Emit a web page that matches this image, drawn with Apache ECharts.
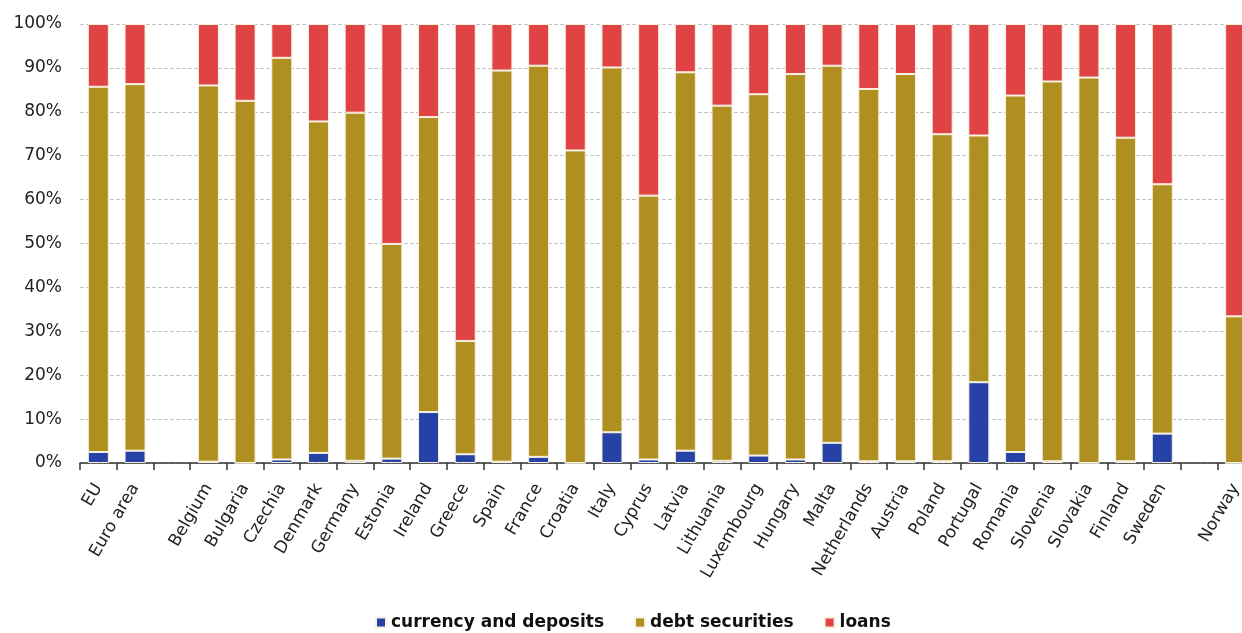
<!DOCTYPE html>
<html>
<head>
<meta charset="utf-8">
<title>Financial liabilities by instrument</title>
<script src="https://cdn.jsdelivr.net/npm/echarts@6/dist/echarts.min.js"></script>
<style>
  html, body { margin: 0; padding: 0; background: #fff; overflow: hidden; }
  #chart { width: 1254px; height: 633px; }
</style>
</head>
<body>
<div id="chart"></div>
<script>
// Country / aggregate labels; empty strings leave a gap between groups
const categories = ['EU', 'Euro area', '', 'Belgium', 'Bulgaria', 'Czechia', 'Denmark', 'Germany',
  'Estonia', 'Ireland', 'Greece', 'Spain', 'France', 'Croatia', 'Italy', 'Cyprus', 'Latvia',
  'Lithuania', 'Luxembourg', 'Hungary', 'Malta', 'Netherlands', 'Austria', 'Poland', 'Portugal',
  'Romania', 'Slovenia', 'Slovakia', 'Finland', 'Sweden', '', 'Norway'];

// Shares of total liabilities (%)
const currencyDeposits = [2.5, 2.8, null, 0.3, 0.0, 0.8, 2.3, 0.5, 1.0, 11.6, 2.0, 0.3, 1.4, 0.0,
  7.0, 0.8, 2.8, 0.5, 1.7, 0.8, 4.6, 0.4, 0.4, 0.4, 18.4, 2.5, 0.4, 0.0, 0.4, 6.7, null, 0.0];
const debtSecurities = [83.2, 83.5, null, 85.7, 82.5, 91.5, 75.5, 79.3, 48.9, 67.2, 25.8, 89.1, 89.1,
  71.2, 83.1, 60.1, 86.2, 80.9, 82.3, 87.8, 85.9, 84.8, 88.2, 74.5, 56.2, 81.2, 86.5, 87.8, 73.7,
  56.8, null, 33.4];
const loans = [14.3, 13.7, null, 14.0, 17.5, 7.7, 22.2, 20.2, 50.1, 21.2, 72.2, 10.6, 9.5, 28.8,
  9.9, 39.1, 11.0, 18.6, 16.0, 11.4, 9.5, 14.8, 11.4, 25.1, 25.4, 16.3, 13.1, 12.2, 25.9, 36.5,
  null, 66.6];

const seriesNames = ['currency and deposits', 'debt securities', 'loans'];
const seriesColors = ['#2642A6', '#B08F21', '#E04343'];

const chart = echarts.init(document.getElementById('chart'), null, { renderer: 'canvas' });

const makeSeries = (name, data, color) => ({
  name: name,
  type: 'bar',
  stack: 'total',
  data: data,
  barWidth: 21,
  itemStyle: { color: color, borderColor: '#f7f1e1', borderWidth: 1 },
  emphasis: { disabled: true }
});

chart.setOption({
  animation: false,
  textStyle: { fontFamily: 'DejaVu Sans, sans-serif' },
  grid: { left: 80, right: 0, top: 24, bottom: 170, containLabel: false },
  legend: {
    bottom: -3,
    left: 370,
    icon: 'rect',
    itemWidth: 10,
    itemHeight: 10,
    itemGap: 30,
    textStyle: { fontSize: 17, fontWeight: 'bold', color: '#111', fontFamily: 'DejaVu Sans, sans-serif' },
    data: seriesNames
  },
  xAxis: {
    type: 'category',
    data: categories,
    axisLine: { lineStyle: { color: '#333', width: 1.5 } },
    axisTick: { show: true, length: 7, lineStyle: { color: '#333', width: 1.5 } },
    axisLabel: { interval: 0, rotate: 60, fontSize: 17, color: '#222', margin: 22 }
  },
  yAxis: {
    type: 'value',
    min: 0,
    max: 100,
    interval: 10,
    axisLine: { show: false },
    axisTick: { show: false },
    axisLabel: { formatter: '{value}%', fontSize: 17, color: '#222', margin: 18 },
    splitLine: { lineStyle: { color: '#c4c4c4', type: [4, 2], width: 1 } }
  },
  series: [
    makeSeries(seriesNames[0], currencyDeposits, seriesColors[0]),
    makeSeries(seriesNames[1], debtSecurities, seriesColors[1]),
    makeSeries(seriesNames[2], loans, seriesColors[2])
  ]
});
</script>
</body>
</html>
